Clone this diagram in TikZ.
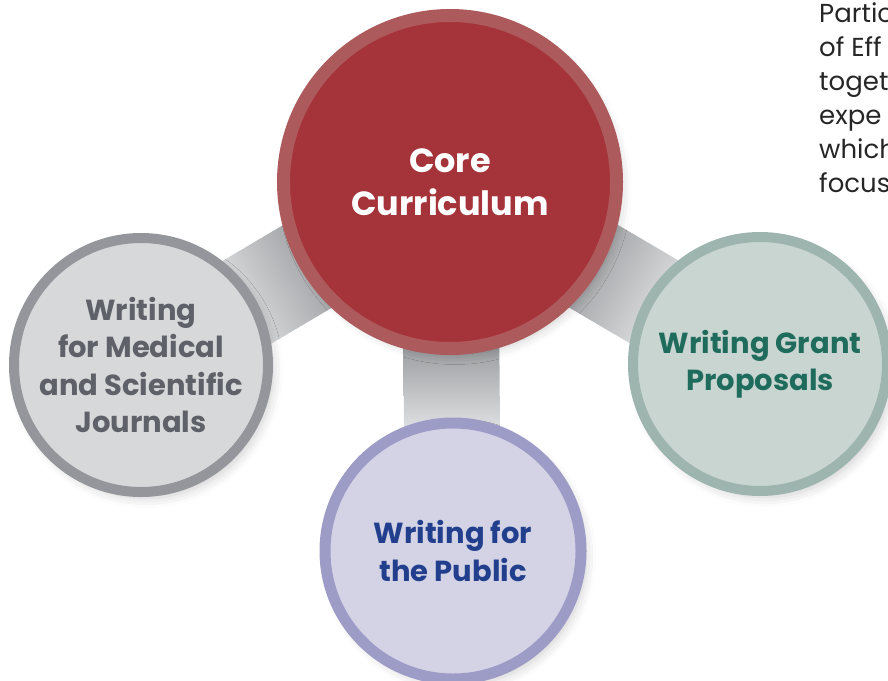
\documentclass[tikz,border=0pt]{standalone}
\usepackage{fontspec}
\setmainfont{Poppins}
\usetikzlibrary{calc,backgrounds,shadows.blur}
\definecolor{corefill}{HTML}{A5343A}
\definecolor{coreline}{HTML}{AD5A5D}
\definecolor{jourfill}{HTML}{D7D8DA}
\definecolor{jourline}{HTML}{94969B}
\definecolor{jourtext}{HTML}{5E6167}
\definecolor{grantfill}{HTML}{C9D5D1}
\definecolor{grantline}{HTML}{9DB5AE}
\definecolor{granttext}{HTML}{1F6B5C}
\definecolor{pubfill}{HTML}{D4D3E6}
\definecolor{publine}{HTML}{9D9CC7}
\definecolor{pubtext}{HTML}{213F8C}
\definecolor{bardark}{HTML}{96989B}
\definecolor{barlight}{HTML}{E4E5E7}
\begin{document}
\begin{tikzpicture}[x=1pt,y=-1pt,
  bubble/.style={circle,line width=10pt,minimum size=254pt,inner sep=0pt,align=center,
    font=\bfseries\fontsize{29}{37.5}\selectfont,
    blur shadow={shadow xshift=5pt,shadow yshift=-6pt,shadow blur radius=10pt,shadow opacity=20}},
  bar/.style={top color=bardark,bottom color=barlight}]
\useasboundingbox (0,0) rectangle (888,680);
\node[bubble,fill=corefill,draw=coreline,line width=13pt,minimum size=333pt,text=white,
  font=\bfseries\fontsize{33.5}{43}\selectfont] (core) at (450,182) {Core\\Curriculum};
\node[bubble,fill=jourfill,draw=jourline,text=jourtext] (jour) at (141,365)
  {Writing\\for Medical\\and Scientific\\Journals};
\node[bubble,fill=grantfill,draw=grantline,text=granttext] (grant) at (760,364)
  {Writing Grant\\Proposals};
\node[bubble,fill=pubfill,draw=publine,text=pubtext,line width=11pt,minimum size=256pt] (pub) at (453,551)
  {Writing for\\the Public};
\node[anchor=base west,align=left,inner sep=0pt,text=black!85,font=\fontsize{26}{34}\selectfont] (intro) at (819,192)
  {Partic\\of Eff\\toget\\expe\\which\\focus};
\begin{scope}[on background layer]
% bars start and end just inside the circles
\coordinate (j1) at ($(core.center)!158pt!(jour.center)$);
\coordinate (j2) at ($(jour.center)!116pt!(core.center)$);
\coordinate (g1) at ($(core.center)!158pt!(grant.center)$);
\coordinate (g2) at ($(grant.center)!116pt!(core.center)$);
\coordinate (p1) at ($(core.center)!158pt!(pub.center)$);
\coordinate (p2) at ($(pub.center)!116pt!(core.center)$);
\shade[bar,shading angle=-59.4] ($(j1)!48pt!90:(j2)$) -- ($(j2)!48pt!-90:(j1)$)
  -- ($(j2)!48pt!90:(j1)$) -- ($(j1)!48pt!-90:(j2)$) -- cycle;
\shade[bar,shading angle=59.4] ($(g1)!48pt!90:(g2)$) -- ($(g2)!48pt!-90:(g1)$)
  -- ($(g2)!48pt!90:(g1)$) -- ($(g1)!48pt!-90:(g2)$) -- cycle;
\shade[bar] ($(p1)!48pt!90:(p2)$) -- ($(p2)!48pt!-90:(p1)$)
  -- ($(p2)!48pt!90:(p1)$) -- ($(p1)!48pt!-90:(p2)$) -- cycle;
\end{scope}
\end{tikzpicture}
\end{document}
